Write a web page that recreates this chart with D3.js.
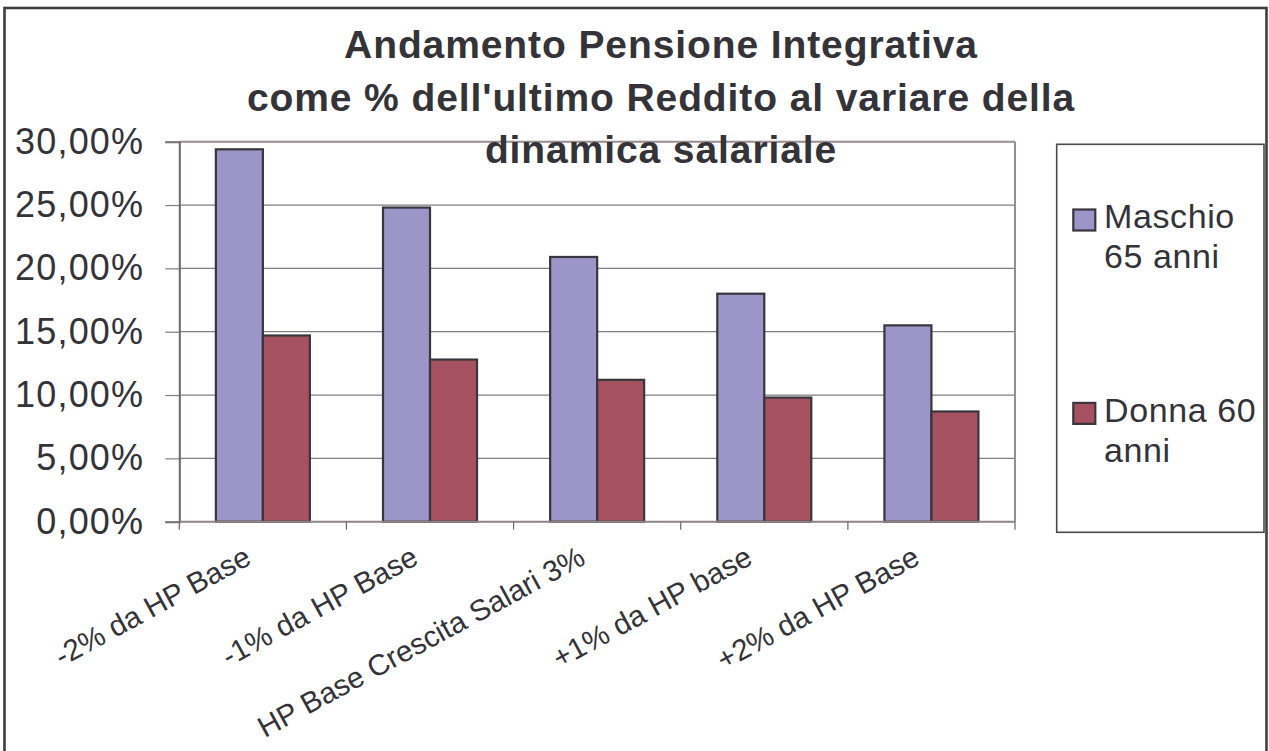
<!DOCTYPE html>
<html>
<head>
<meta charset="utf-8">
<script src="https://cdn.jsdelivr.net/npm/d3@7"></script>
<style>
html,body{margin:0;padding:0;background:#fff;}
svg{display:block;font-family:Arial,"Liberation Sans",sans-serif;}
</style>
</head>
<body>
<svg id="chart" width="1269" height="751"></svg>
<script>
const categories = ["-2% da HP Base","-1% da HP Base","HP Base Crescita Salari 3%","+1% da HP base","+2% da HP Base"];
const seriesNames = ["Maschio 65 anni","Donna 60 anni"];
const maschio = [0.294,0.248,0.209,0.180,0.155];
const donna = [0.147,0.128,0.112,0.098,0.087];
const yTicks = [0,0.05,0.10,0.15,0.20,0.25,0.30];
const titleLines = ["Andamento Pensione Integrativa","come % dell'ultimo Reddito al variare della","dinamica salariale"];
const legendLines = [["Maschio","65 anni"],["Donna 60","anni"]];
const colors = ["#9b95c8","#a5515f"];

const svg = d3.select("#chart");
const plot = {left:179.3, right:1015, top:141.7, bottom:521.7};

// outer border
svg.append("rect").attr("x",4.5).attr("y",8).attr("width",1262).attr("height",770)
  .attr("fill","#fff").attr("stroke","#3e3e42").attr("stroke-width",2.6);

const y = d3.scaleLinear().domain([0,0.30]).range([plot.bottom, plot.top]);
const x0 = d3.scaleBand().domain(categories).range([plot.left, plot.right]).padding(0);
const x1 = d3.scaleBand().domain(seriesNames).range([0, x0.bandwidth()]).paddingInner(0).paddingOuter(0.778);

const itLocale = d3.formatLocale({decimal:",", thousands:".", grouping:[3], currency:["","€"]});
const fmt = itLocale.format(".2%");

// gridlines
svg.append("g").selectAll("line").data(yTicks.filter(d=>d>0 && d<0.30)).join("line")
  .attr("x1",plot.left).attr("x2",plot.right)
  .attr("y1",d=>y(d)).attr("y2",d=>y(d))
  .attr("stroke","#7f7f7f").attr("stroke-width",1.2);

// plot border top & right
svg.append("line").attr("x1",plot.left).attr("x2",plot.right).attr("y1",plot.top).attr("y2",plot.top)
  .attr("stroke","#9a8d8b").attr("stroke-width",2);
svg.append("line").attr("x1",plot.right).attr("x2",plot.right).attr("y1",plot.top).attr("y2",plot.bottom)
  .attr("stroke","#9a8d8b").attr("stroke-width",2);

// bars
const data = categories.map((c,i)=>({cat:c, vals:[maschio[i], donna[i]]}));
const groups = svg.append("g").selectAll("g").data(data).join("g")
  .attr("transform",d=>`translate(${x0(d.cat)},0)`);
groups.selectAll("rect").data(d=>d.vals.map((v,j)=>({s:seriesNames[j], v, j}))).join("rect")
  .attr("x",d=>x1(d.s)).attr("width",x1.bandwidth())
  .attr("y",d=>y(d.v)).attr("height",d=>y(0)-y(d.v))
  .attr("fill",d=>colors[d.j]).attr("stroke","#38363c").attr("stroke-width",2.2);

// y axis
const yAxis = svg.append("g").attr("transform",`translate(${plot.left},0)`)
  .call(d3.axisLeft(y).tickValues(yTicks).tickFormat(fmt).tickSize(14).tickPadding(21));
yAxis.select(".domain").attr("stroke","#6e6462").attr("stroke-width",2);
yAxis.selectAll(".tick line").attr("stroke","#7f7f7f").attr("stroke-width",1.2);
yAxis.selectAll(".tick text").attr("fill","#333338").attr("font-size",36)
  .attr("letter-spacing","1.2px").attr("font-family","Arial,'Liberation Sans',sans-serif");

// x axis line
svg.append("line").attr("x1",plot.left).attr("x2",plot.right).attr("y1",plot.bottom).attr("y2",plot.bottom)
  .attr("stroke","#8f8583").attr("stroke-width",2);
// x ticks at category boundaries
const bounds = categories.map(c=>x0(c)).concat([plot.right]);
svg.append("g").selectAll("line").data(bounds).join("line")
  .attr("x1",d=>d).attr("x2",d=>d).attr("y1",plot.bottom).attr("y2",plot.bottom+8)
  .attr("stroke","#6e6462").attr("stroke-width",1.2);

// x labels
svg.append("g").selectAll("text").data(categories).join("text")
  .attr("transform",d=>`translate(${x0(d)+x0.bandwidth()/2-10},${plot.bottom+41.5}) rotate(-28.5)`)
  .attr("text-anchor","end").attr("font-size",29.5)
  .attr("fill","#333338").text(d=>d);

// title
svg.append("g").selectAll("text").data(titleLines).join("text")
  .attr("x",661).attr("y",(d,i)=>58.3+i*52.4)
  .attr("text-anchor","middle").attr("font-size",39).attr("font-weight","bold")
  .attr("letter-spacing","0.9px").attr("fill","#333338").text(d=>d);

// legend
svg.append("rect").attr("x",1056.7).attr("y",144.3).attr("width",207.3).attr("height",388)
  .attr("fill","#fff").attr("stroke","#4a4a4e").attr("stroke-width",1.6);
const lg = svg.append("g").selectAll("g").data(seriesNames).join("g")
  .attr("transform",(d,i)=>`translate(0,${i*193.4})`);
lg.append("rect").attr("x",1073.3).attr("y",209.5).attr("width",22).attr("height",21)
  .attr("fill",(d,i)=>colors[i]).attr("stroke","#38363c").attr("stroke-width",2.2);
lg.each(function(d,i){
  d3.select(this).selectAll("text").data(legendLines[i]).join("text")
    .attr("x",1104).attr("y",(t,k)=>228.3+k*40)
    .attr("font-size",34).attr("letter-spacing","0.6px").attr("fill","#333338").text(t=>t);
});
</script>
</body>
</html>
